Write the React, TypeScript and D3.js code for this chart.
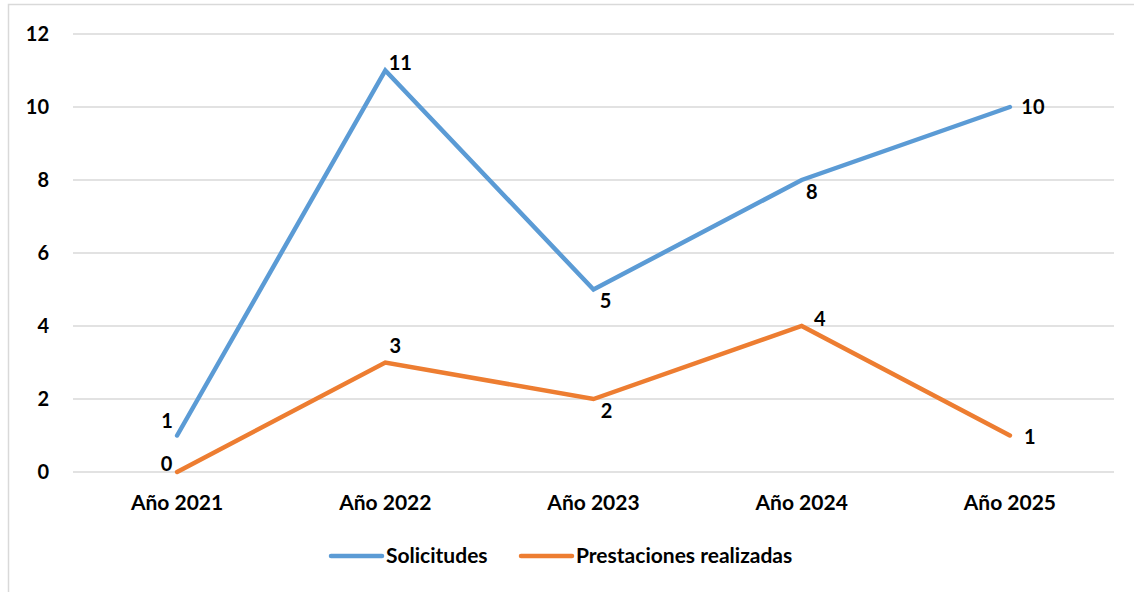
import React from "react";
import * as d3 from "d3";

const categories = ["Año 2021", "Año 2022", "Año 2023", "Año 2024", "Año 2025"];
const solicitudes = [1, 11, 5, 8, 10];
const prestaciones = [0, 3, 2, 4, 1];
const yTicks = [0, 2, 4, 6, 8, 10, 12];
const seriesNames = ["Solicitudes", "Prestaciones realizadas"];
const colors = ["#5B9BD5", "#ED7D31"];

// label offsets (dx, dy) per point
const labelOffsets = [
  [[-10, -14.5], [15, -8], [12, 11], [10, 11.5], [23, 0]],
  [[-10.5, -8.5], [10, -17], [13, 11.5], [18, -7.5], [20, 1]],
];

const FONT = "Lato, 'Open Sans', sans-serif";

export default function App() {
  const W = 1134, H = 592;
  const left = 73, right = 1114, top = 34, bottom = 472;
  const x = d3.scaleBand<string>().domain(categories).range([left, right]);
  const y = d3.scaleLinear().domain([0, 12]).range([bottom, top]);
  const cx = (c: string) => (x(c) as number) + x.bandwidth() / 2;
  const line = d3.line<number>().x((_, i) => cx(categories[i])).y((d) => y(d));
  const series = [solicitudes, prestaciones];
  return (
    <svg width={W} height={H} style={{ position: "absolute", left: 0, top: 0, background: "#fff" }}>
      <rect x={8.5} y={4.5} width={W} height={H} fill="#fff" stroke="#d9d9d9" strokeWidth={1.5} />
      {yTicks.map((t) => (
        <g key={t}>
          <line x1={left} x2={right} y1={y(t)} y2={y(t)} stroke="#d9d9d9" strokeWidth={1.5} />
          <text x={49} y={y(t)} dy="0.35em" textAnchor="end" fontFamily={FONT} fontWeight="bold" fontSize={20} fill="#000">
            {t}
          </text>
        </g>
      ))}
      {categories.map((c) => (
        <text key={c} x={cx(c)} y={bottom + 31} dy="0.35em" textAnchor="middle" fontFamily={FONT} fontWeight="bold" fontSize={21} fill="#000">
          {c}
        </text>
      ))}
      {series.map((s, si) => (
        <path key={si} d={line(s) || ""} fill="none" stroke={colors[si]} strokeWidth={4.5} strokeLinecap="round" strokeLinejoin="miter" />
      ))}
      {series.map((s, si) =>
        s.map((v, i) => (
          <text
            key={`${si}-${i}`}
            x={cx(categories[i]) + labelOffsets[si][i][0]}
            y={y(v) + labelOffsets[si][i][1]}
            dy="0.35em"
            textAnchor="middle"
            fontFamily={FONT}
            fontWeight="bold"
            fontSize={20}
            fill="#000"
          >
            {v}
          </text>
        ))
      )}
      {seriesNames.map((n, i) => {
        const lx = [331, 521][i];
        return (
          <g key={n}>
            <line x1={lx} x2={lx + 51} y1={556} y2={556} stroke={colors[i]} strokeWidth={4.5} strokeLinecap="round" />
            <text x={lx + 55} y={556} dy="0.35em" fontFamily={FONT} fontWeight="bold" fontSize={21} fill="#000">
              {n}
            </text>
          </g>
        );
      })}
    </svg>
  );
}
